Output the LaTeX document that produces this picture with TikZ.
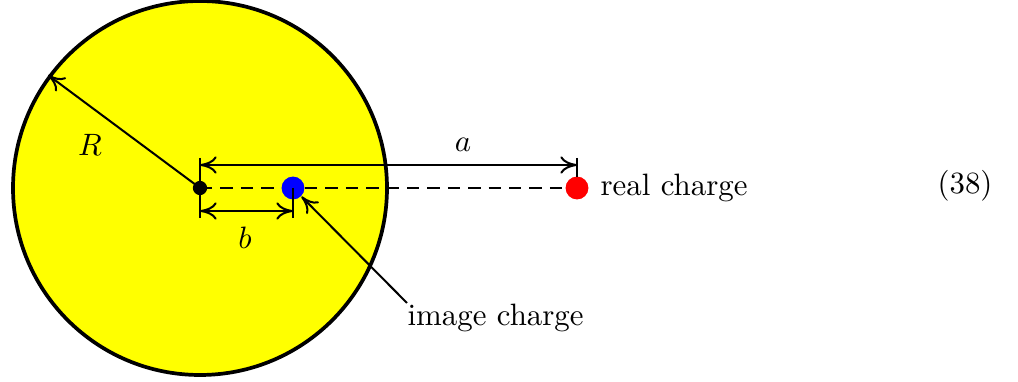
\documentclass[tikz,border=0pt]{standalone}
\usetikzlibrary{arrows.meta}
\definecolor{pureyellow}{RGB}{255,255,0}
\definecolor{pureblue}{RGB}{0,0,255}
\definecolor{purered}{RGB}{255,0,0}
\begin{document}
\begin{tikzpicture}[x=0.3236pt,y=-0.3236pt,
  tip/.tip={To[length=5.4pt,width=5.6pt]},
  dim/.style={line width=0.65pt,tip-tip},
  lead/.style={line width=0.65pt,-tip},
  tick/.style={line width=0.65pt},
  charge/.style={circle,inner sep=0pt,minimum size=#1},
  lbl/.style={font=\normalsize}]
\useasboundingbox (0,0) rectangle (1018,382);
% sphere
\draw[line width=1.2pt,fill=pureyellow] (200,188) circle[radius=187];
% points
\node[charge=4.6pt,fill=black] (O) at (200,188) {};
\node[charge=7.4pt,fill=pureblue] (img) at (293,188) {};
\node[charge=7.4pt,fill=purered] (real) at (577,188) {};
% dashed line
\draw[line width=0.65pt,dash pattern=on 4pt off 2.6pt] (O.center) -- (img) -- (real);
% radius
\coordinate (Rtip) at (48,75);
\draw[lead] (O.center) -- (Rtip);
\node[lbl] (Rl) at (90,145) {$R$};
% tick marks
\coordinate (t1a) at (200,158); \coordinate (t1b) at (200,218);
\coordinate (t2a) at (577,158); \coordinate (t2b) at (577,177);
\coordinate (t3a) at (293,188); \coordinate (t3b) at (293,218);
\draw[tick] (t1a) -- (t1b);
\draw[tick] (t2a) -- (t2b);
\draw[tick] (t3a) -- (t3b);
% dimension a
\coordinate (a1) at (200,165); \coordinate (a2) at (577,165);
\draw[dim] (a1) -- (a2);
\node[lbl] (al) at (463,145) {$a$};
% dimension b
\coordinate (b1) at (200,211); \coordinate (b2) at (293,211);
\draw[dim] (b1) -- (b2);
\node[lbl] (bl) at (245,238) {$b$};
% labels
\node[lbl,anchor=west,inner sep=0pt] (rl) at (600,188) {real charge};
\node[lbl,anchor=north west,inner sep=0pt] (il) at (407,303) {image charge};
\draw[lead] (il.north west) -- (img);
\node[lbl] (eq) at (965,186) {(38)};
\end{tikzpicture}
\end{document}
